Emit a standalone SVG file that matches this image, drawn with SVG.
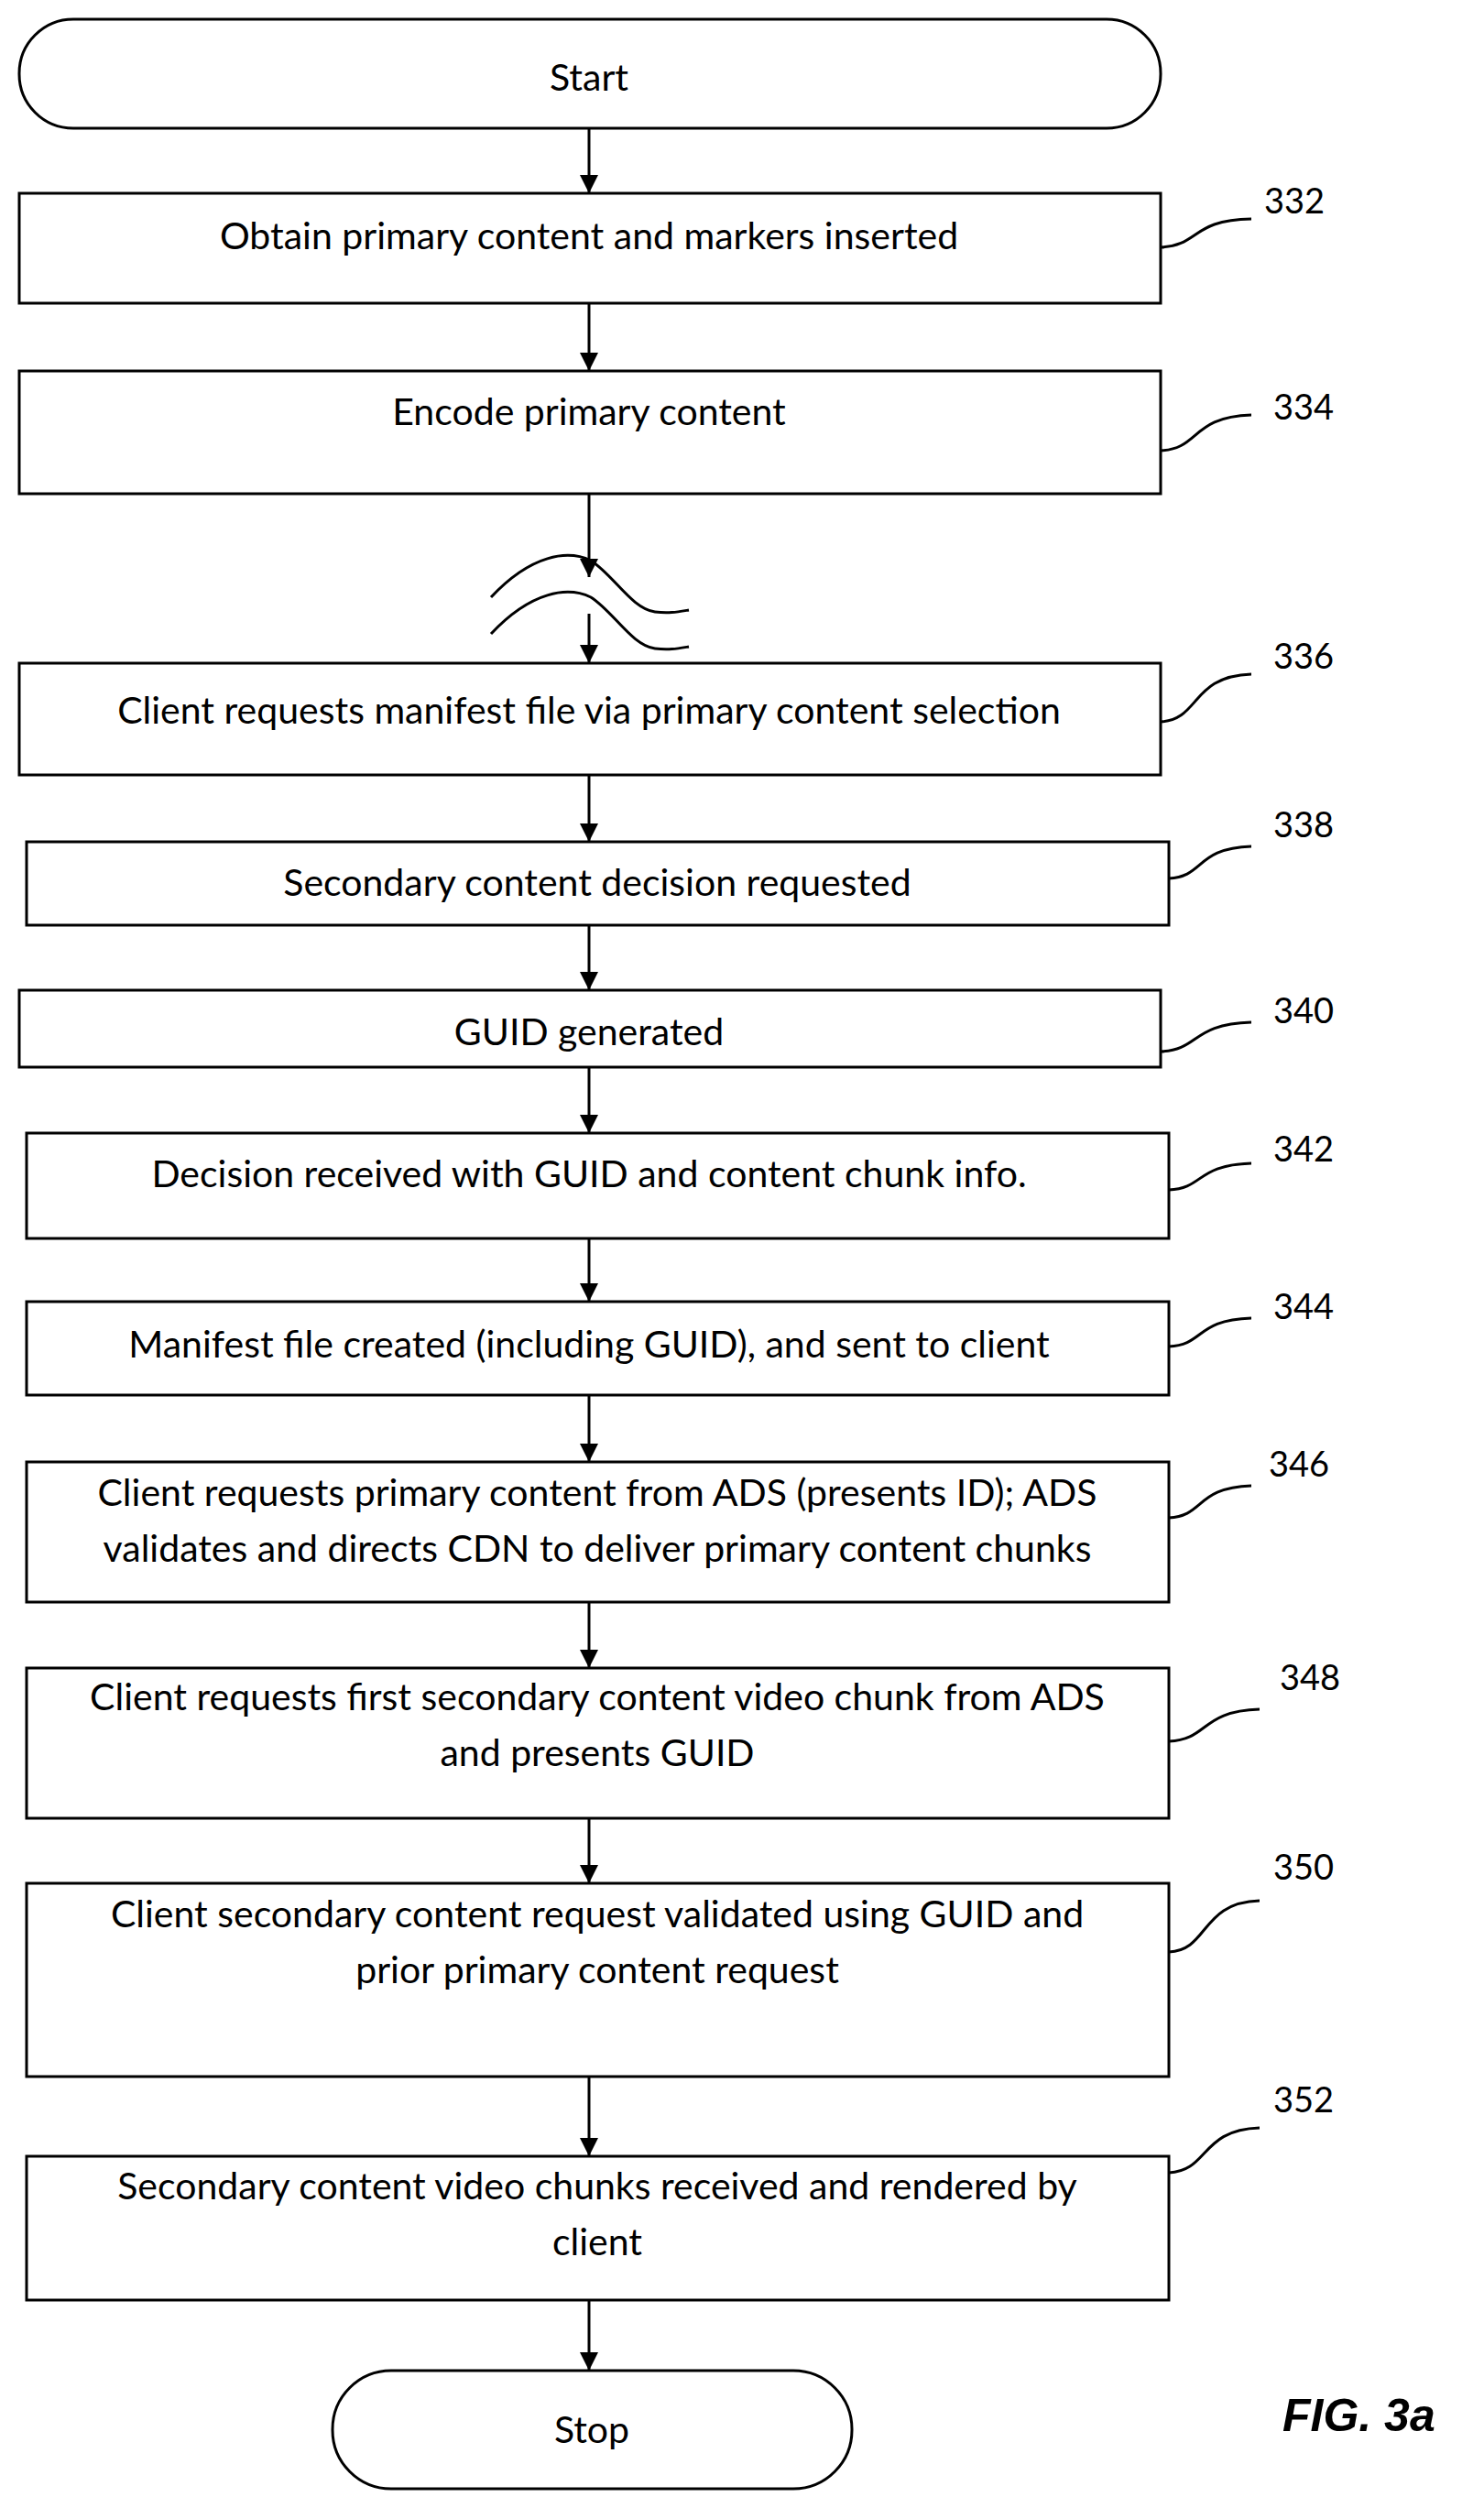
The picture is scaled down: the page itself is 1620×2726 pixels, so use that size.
<svg xmlns="http://www.w3.org/2000/svg" width="1620" height="2726" viewBox="0 0 1620 2726">
<style>
.b{fill:#fff;stroke:#000;stroke-width:3}
.t{font-family:Lato,"Open Sans",sans-serif;font-size:41px;text-anchor:middle;fill:#000}
.n{font-family:Lato,"Open Sans",sans-serif;font-size:38px;fill:#000}
.c{fill:none;stroke:#000;stroke-width:3}
</style>
<defs>
<marker id="ah" viewBox="0 0 20 20" refX="20" refY="10" markerWidth="20" markerHeight="22" orient="auto" markerUnits="userSpaceOnUse"><path d="M0,0L20,10L0,20z"/></marker></defs>
<rect width="1620" height="2726" fill="#fff"/>
<g id="connectors" class="c">
<path d="M643,140V211" marker-end="url(#ah)"/>
<path d="M643,331V405" marker-end="url(#ah)"/>
<path d="M643,539V630" marker-end="url(#ah)"/>
<path d="M643,670V724" marker-end="url(#ah)"/>
<path d="M536,652C580,605 620,600 645,612C670,628 690,665 715,668C730,670 740,668 752,666"/>
<path d="M536,692C580,645 620,640 645,652C670,668 690,705 715,708C730,710 740,708 752,706"/>
<path d="M643,846V919" marker-end="url(#ah)"/>
<path d="M643,1010V1081" marker-end="url(#ah)"/>
<path d="M643,1165V1237" marker-end="url(#ah)"/>
<path d="M643,1352V1421" marker-end="url(#ah)"/>
<path d="M643,1523V1596" marker-end="url(#ah)"/>
<path d="M643,1749V1821" marker-end="url(#ah)"/>
<path d="M643,1985V2056" marker-end="url(#ah)"/>
<path d="M643,2267V2354" marker-end="url(#ah)"/>
<path d="M643,2511V2588" marker-end="url(#ah)"/>
<path d="M1267,270C1310,268 1300,240 1366,239"/>
<path d="M1267,492C1310,490 1300,455 1366,453"/>
<path d="M1267,788C1310,786 1300,738 1366,736"/>
<path d="M1276,959C1315,957 1305,926 1366,924"/>
<path d="M1267,1148C1310,1146 1300,1118 1366,1116"/>
<path d="M1276,1299C1315,1297 1305,1272 1366,1270"/>
<path d="M1276,1470C1315,1468 1305,1441 1366,1439"/>
<path d="M1276,1657C1315,1655 1305,1624 1366,1622"/>
<path d="M1276,1901C1320,1899 1310,1868 1375,1866"/>
<path d="M1276,2131C1320,2129 1310,2077 1375,2075"/>
<path d="M1276,2372C1320,2370 1310,2325 1375,2323"/>
</g>
<g id="start"><rect class="b" x="21" y="21" width="1246" height="119" rx="59"/><text class="t" x="643" y="99">Start</text></g>
<g id="n332"><rect class="b" x="21" y="211" width="1246" height="120"/><text class="t" x="643" y="272">Obtain primary content and markers inserted</text><text class="n" x="1380" y="233">332</text></g>
<g id="n334"><rect class="b" x="21" y="405" width="1246" height="134"/><text class="t" x="643" y="464">Encode primary content</text><text class="n" x="1390" y="458">334</text></g>
<g id="n336"><rect class="b" x="21" y="724" width="1246" height="122"/><text class="t" x="643" y="790">Client requests manifest file via primary content selection</text><text class="n" x="1390" y="730">336</text></g>
<g id="n338"><rect class="b" x="29" y="919" width="1247" height="91"/><text class="t" x="652" y="978">Secondary content decision requested</text><text class="n" x="1390" y="914">338</text></g>
<g id="n340"><rect class="b" x="21" y="1081" width="1246" height="84"/><text class="t" x="643" y="1141">GUID generated</text><text class="n" x="1390" y="1117">340</text></g>
<g id="n342"><rect class="b" x="29" y="1237" width="1247" height="115"/><text class="t" x="643" y="1296">Decision received with GUID and content chunk info.</text><text class="n" x="1390" y="1268">342</text></g>
<g id="n344"><rect class="b" x="29" y="1421" width="1247" height="102"/><text class="t" x="643" y="1482">Manifest file created (including GUID), and sent to client</text><text class="n" x="1390" y="1440">344</text></g>
<g id="n346"><rect class="b" x="29" y="1596" width="1247" height="153"/><text class="t" x="652" y="1644">Client requests primary content from ADS (presents ID); ADS</text><text class="t" x="652" y="1705">validates and directs CDN to deliver primary content chunks</text><text class="n" x="1385" y="1612">346</text></g>
<g id="n348"><rect class="b" x="29" y="1821" width="1247" height="164"/><text class="t" x="652" y="1867">Client requests first secondary content video chunk from ADS</text><text class="t" x="652" y="1928">and presents GUID</text><text class="n" x="1397" y="1845">348</text></g>
<g id="n350"><rect class="b" x="29" y="2056" width="1247" height="211"/><text class="t" x="652" y="2104">Client secondary content request validated using GUID and</text><text class="t" x="652" y="2165">prior primary content request</text><text class="n" x="1390" y="2052">350</text></g>
<g id="n352"><rect class="b" x="29" y="2354" width="1247" height="157"/><text class="t" x="652" y="2401">Secondary content video chunks received and rendered by</text><text class="t" x="652" y="2462">client</text><text class="n" x="1390" y="2306">352</text></g>
<g id="stop"><rect class="b" x="363" y="2588" width="567" height="129" rx="64"/><text class="t" x="646" y="2667">Stop</text></g>
<text x="1400" y="2654" style="font-family:'Liberation Sans',Arial,sans-serif;font-size:50px;font-weight:bold;font-style:italic">FIG. 3a</text>
</svg>
